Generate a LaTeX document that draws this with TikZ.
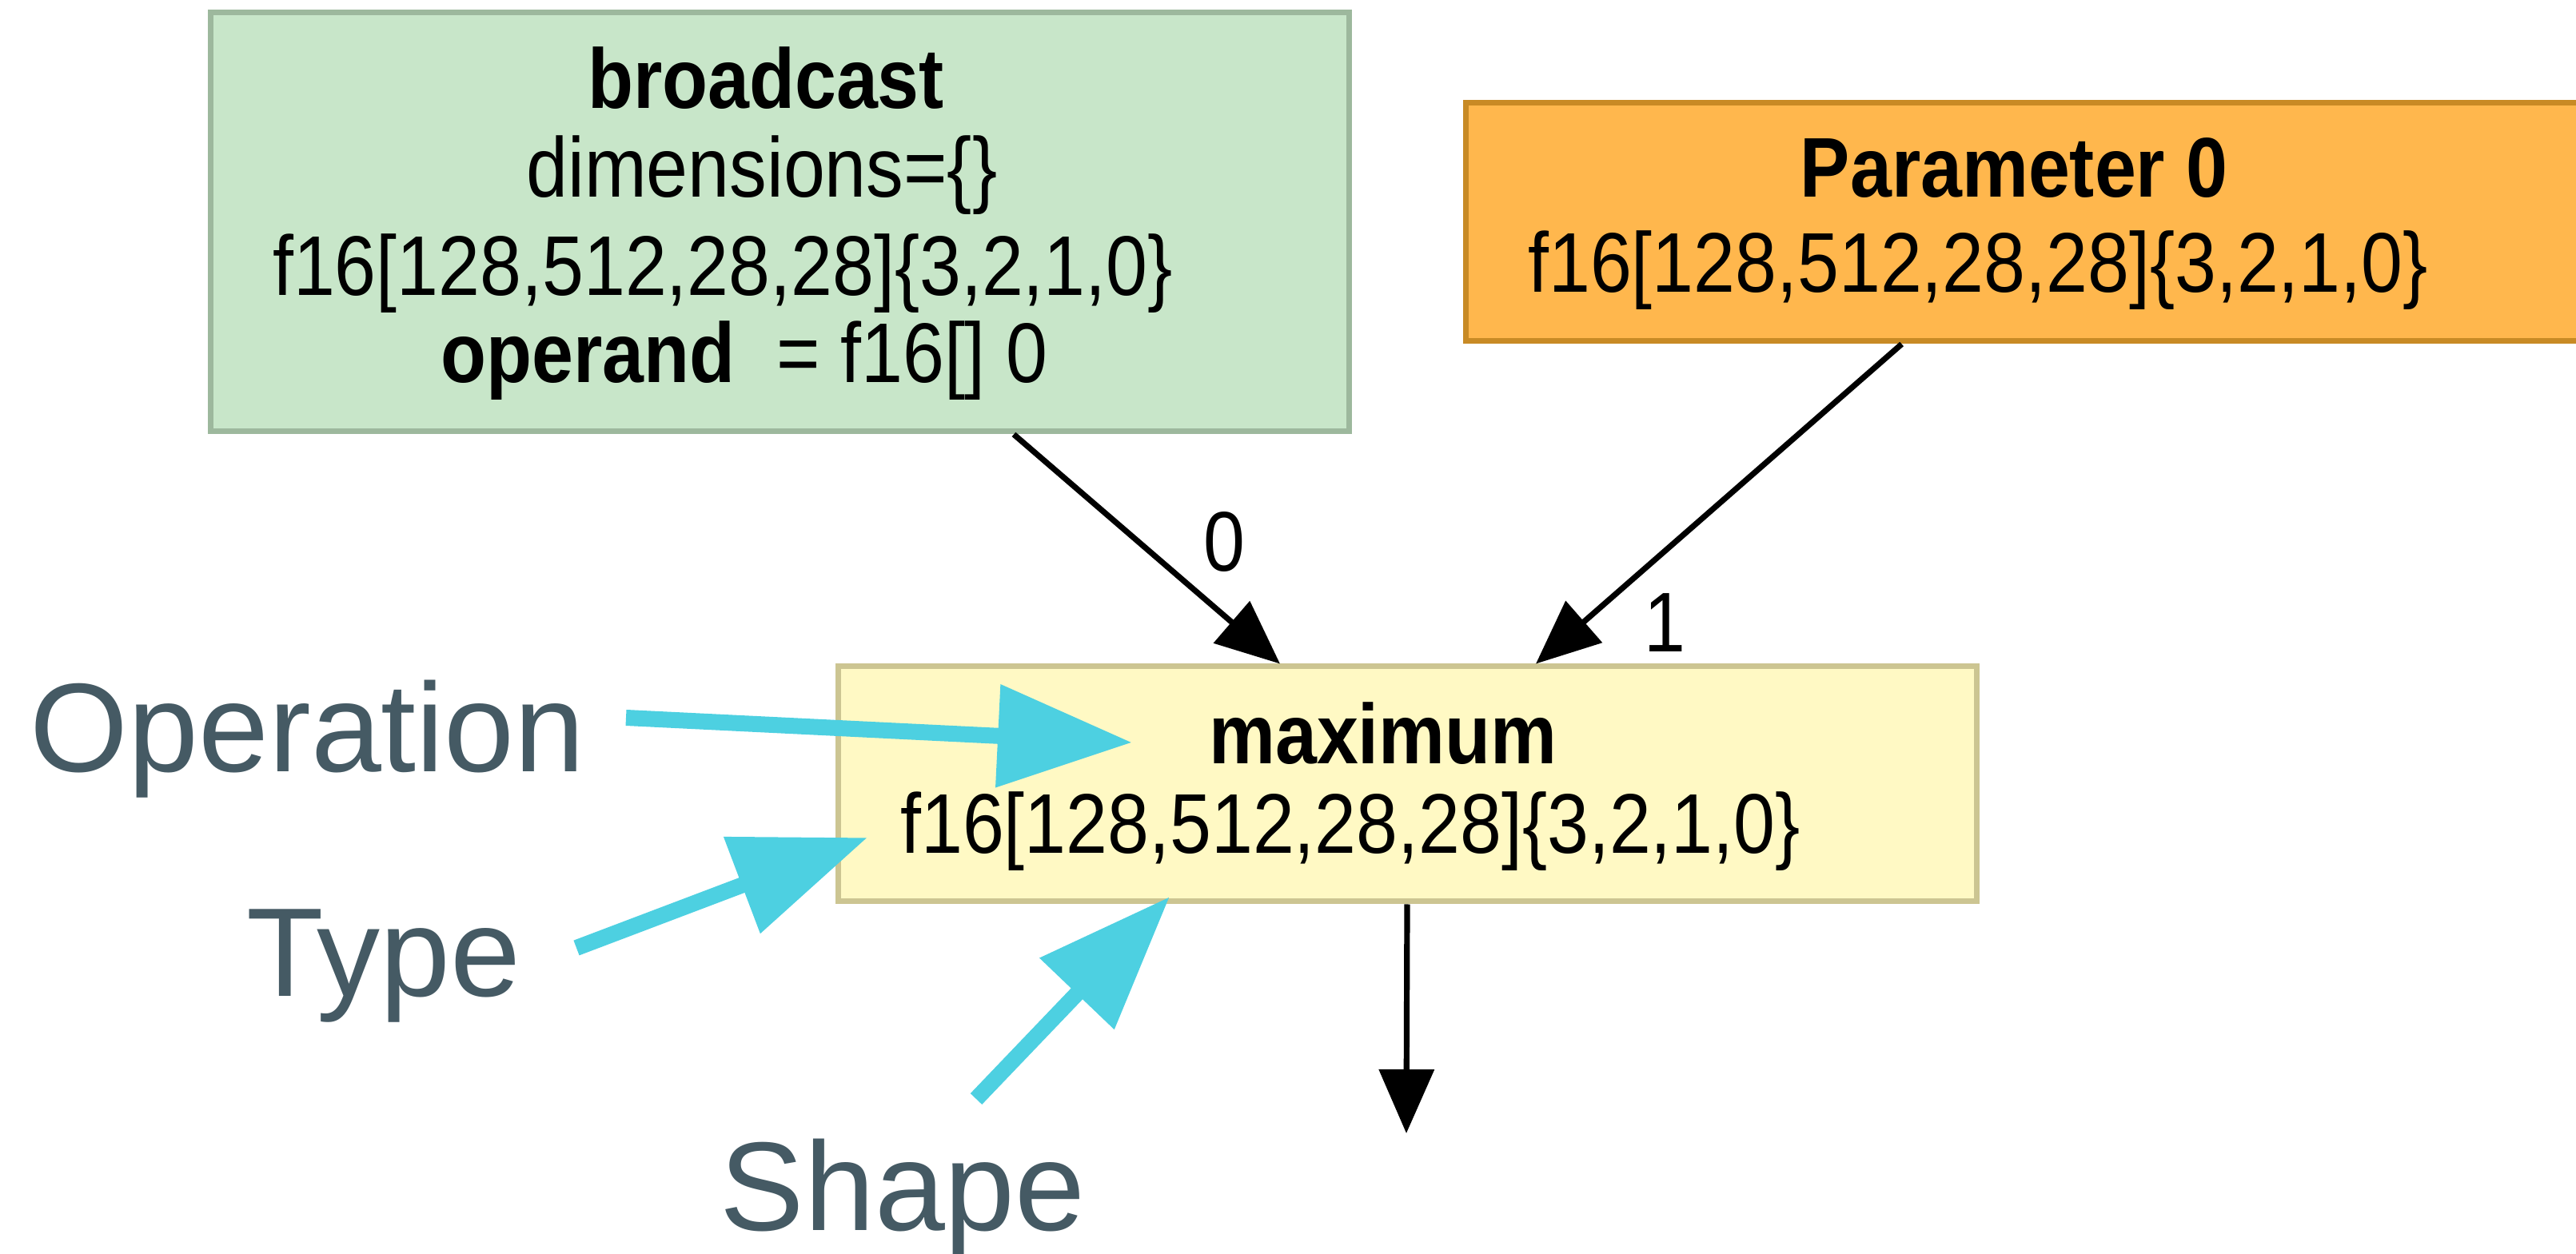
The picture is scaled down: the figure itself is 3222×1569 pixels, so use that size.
\documentclass[tikz,border=0pt]{standalone}
\usepackage{fontspec}
\setmainfont{Liberation Sans}[FakeStretch=0.88]
\newfontfamily\annfont{Liberation Sans}
\usetikzlibrary{arrows.meta,calc}
\definecolor{gfill}{HTML}{C8E6C9}
\definecolor{gdraw}{HTML}{9DB89D}
\definecolor{ofill}{HTML}{FFB74D}
\definecolor{odraw}{HTML}{C88A25}
\definecolor{yfill}{HTML}{FFF9C4}
\definecolor{ydraw}{HTML}{CCC592}
\definecolor{cyanarr}{HTML}{4DD0E1}
\definecolor{anntext}{HTML}{455A64}
\tikzset{
  box/.style={rectangle, line width=1.75pt, inner sep=0pt},
  txt/.style={anchor=base, inner sep=0pt, font=\fontsize{26.5}{30}\selectfont},
  ann/.style={anchor=base west, inner sep=0pt, text=anntext, font=\annfont\fontsize{39.5}{44}\selectfont},
  edge/.style={line width=1.8pt, -{Triangle[length=20pt,width=17pt]}},
  pointer/.style={draw=cyanarr, line width=5pt, -{Triangle[length=42pt,width=31pt]}, color=cyanarr},
}
\begin{document}
\begin{tikzpicture}[x=0.25pt,y=-0.25pt]
\useasboundingbox[fill=white] (0,0) rectangle (3222,1569);
% boxes
\node[box, fill=gfill, draw=gdraw, minimum width=356pt, minimum height=131pt] (bc) at (975,278) {};
\node[box, fill=ofill, draw=odraw, minimum width=352pt, minimum height=74.5pt] (par) at (2537,278) {};
\node[box, fill=yfill, draw=ydraw, minimum width=356pt, minimum height=73.5pt] (mx) at (1760,981) {};
% texts
\node[txt] (bc1) at (958,136) {\textbf{broadcast}};
\node[txt] (bc2) at (953,247) {dimensions=\{\}};
\node[txt] (bc3) at (904,370) {f16[128,512,28,28]\{3,2,1,0\}};
\node[txt] (bc4) at (931,479) {\textbf{operand}~ = f16[]~0};
\node[txt] (par1) at (2519,247) {\textbf{Parameter 0}};
\node[txt] (par2) at (2474,366) {f16[128,512,28,28]\{3,2,1,0\}};
\node[txt] (mx1) at (1730,956) {\textbf{maximum}};
\node[txt] (mx2) at (1689,1068) {f16[128,512,28,28]\{3,2,1,0\}};
% edges
\coordinate (out) at (1759,1418);
\draw[edge] ([xshift=73.25pt]bc.south) -- ([xshift=-39.75pt]mx.north);
\draw[edge] ([xshift=-39.6pt]par.south) -- ([xshift=40.25pt]mx.north);
\draw[edge] (mx.south) -- (out);
\node[txt] (l0) at (1531,715) {0};
\node[txt] (l1) at (2082,816) {1};
% annotations
\node[ann] (aop) at (37,966) {Operation};
\node[ann] (aty) at (308,1247) {Type};
\node[ann] (ash) at (900,1539) {Shape};
\coordinate (opS) at (783,898);
\coordinate (opT) at (1416,929);
\coordinate (tyS) at (721,1186);
\coordinate (tyT) at (1085,1048);
\coordinate (shS) at (1221,1375);
\coordinate (shT) at (1463,1122);
\draw[pointer] (opS) -- (opT);
\draw[pointer] (tyS) -- (tyT);
\draw[pointer] (shS) -- (shT);
\end{tikzpicture}
\end{document}
